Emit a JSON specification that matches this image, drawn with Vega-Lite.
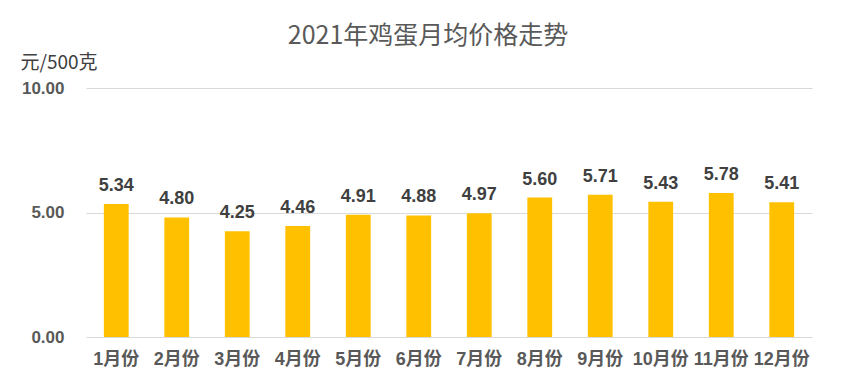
{
  "$schema": "https://vega.github.io/schema/vega-lite/v6.json",
  "autosize": "none",
  "width": 726,
  "height": 249,
  "padding": {"left": 86, "top": 88, "right": 42, "bottom": 45},
  "background": "white",
  "title": {
    "text": "2021年鸡蛋月均价格走势",
    "font": "Noto Sans CJK SC",
    "fontSize": 25,
    "fontWeight": "normal",
    "color": "#595959",
    "anchor": "middle",
    "frame": "group",
    "dx": -21,
    "offset": 4
  },
  "data": {
    "values": [
      {"month": "1月份", "price": 5.34},
      {"month": "2月份", "price": 4.80},
      {"month": "3月份", "price": 4.25},
      {"month": "4月份", "price": 4.46},
      {"month": "5月份", "price": 4.91},
      {"month": "6月份", "price": 4.88},
      {"month": "7月份", "price": 4.97},
      {"month": "8月份", "price": 5.60},
      {"month": "9月份", "price": 5.71},
      {"month": "10月份", "price": 5.43},
      {"month": "11月份", "price": 5.78},
      {"month": "12月份", "price": 5.41}
    ]
  },
  "encoding": {
    "x": {
      "field": "month",
      "type": "nominal",
      "sort": null,
      "scale": {"paddingInner": 0.59, "paddingOuter": 0.295},
      "axis": {
        "title": null,
        "labelAngle": 0,
        "ticks": false,
        "domain": false,
        "labelPadding": 13,
        "labelFont": "Liberation Sans, Noto Sans CJK SC",
        "labelFontSize": 18,
        "labelFontWeight": "bold",
        "labelColor": "#595959"
      }
    },
    "y": {
      "field": "price",
      "type": "quantitative",
      "scale": {"domain": [0, 10], "nice": false},
      "axis": {
        "values": [0, 5, 10],
        "format": ".2f",
        "ticks": false,
        "domain": false,
        "gridColor": "#d9d9d9",
        "gridWidth": 1,
        "labelPadding": 22,
        "labelFont": "Liberation Sans",
        "labelFontSize": 17,
        "labelFontWeight": "bold",
        "labelColor": "#595959",
        "title": "元/500克",
        "titleAngle": 0,
        "titleAlign": "left",
        "titleBaseline": "middle",
        "titleX": -66,
        "titleY": -26,
        "titleFont": "Noto Sans CJK SC",
        "titleFontSize": 19,
        "titleFontWeight": "normal",
        "titleColor": "#404040"
      }
    }
  },
  "layer": [
    {"mark": {"type": "bar", "color": "#FFC000"}},
    {
      "mark": {
        "type": "text",
        "dy": -18,
        "font": "Liberation Sans",
        "fontSize": 18,
        "fontWeight": "bold",
        "color": "#404040"
      },
      "encoding": {"text": {"field": "price", "type": "quantitative", "format": ".2f"}}
    }
  ],
  "config": {"view": {"stroke": null}}
}
